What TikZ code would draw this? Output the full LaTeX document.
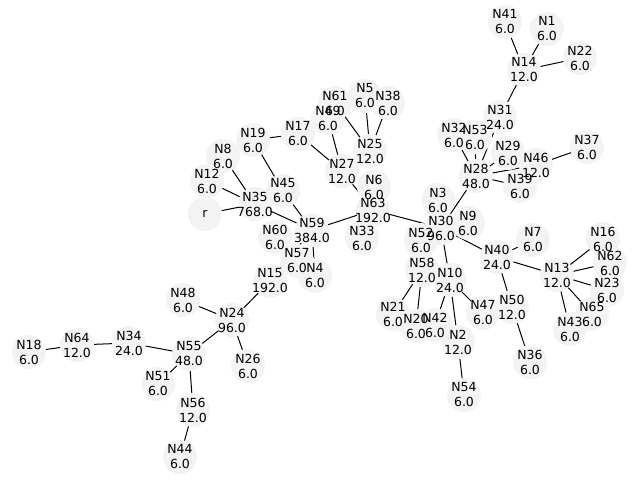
\documentclass[tikz,border=0pt]{standalone}
\usepackage{fontspec}
\setmainfont{DejaVu Sans}
\usetikzlibrary{backgrounds}
\definecolor{nodefill}{RGB}{243,243,243}
\begin{document}
\begin{tikzpicture}[x=1pt,y=-1pt,
  dot/.style={circle,fill=nodefill,draw=none,minimum size=34pt,inner sep=0pt},
  txt/.style={align=center,inner sep=0pt,font=\fontsize{12.5}{15}\selectfont},
  edge/.style={draw=black,line width=1pt}]
\useasboundingbox (0,0) rectangle (640,480);
\def\nodelist{N35/255/204/768.0,N12/207/181/6.0,N8/223/156/6.0,N19/253/140/6.0,N45/283/191/6.0,
N17/298/134/6.0,N27/342/171/12.0,N49/328/118/6.0,N61/335/103/6.0,N5/365/96/6.0,N38/388/103/6.0,
N25/370/151/12.0,N6/374/187/6.0,N63/373/210/192.0,N59/312/230/384.0,N60/275/237/6.0,N57/297/261/6.0,
N4/315/276/6.0,N33/362/238/6.0,N15/270/281/192.0,N24/232/320/96.0,N48/183/300/6.0,N26/248/366/6.0,
N55/189/354/48.0,N34/129/343/24.0,N64/77/345/12.0,N18/29/352/6.0,N51/158/384/6.0,N56/193/410/12.0,
N44/180/457/6.0,N30/441/228/96.0,N3/438/200/6.0,N9/468/223/6.0,N52/421/240/6.0,N28/476/176/48.0,
N32/454/135/6.0,N53/475/137/6.0,N29/508/153/6.0,N31/500/117/24.0,N14/524/70/12.0,N41/505/22/6.0,
N1/547/29/6.0,N22/580/58/6.0,N46/536/165/12.0,N37/587/147/6.0,N39/520/186/6.0,N40/497/257/24.0,
N7/533/240/6.0,N13/557/275/12.0,N16/603/239/6.0,N62/610/263/6.0,N23/607/290/6.0,N65/592/314/6.0,
N43/570/329/6.0,N50/512/307/12.0,N36/530/362/6.0,N10/450/280/24.0,N58/422/270/12.0,N21/393/314/6.0,
N20/416/326/6.0,N42/435/325/6.0,N2/458/342/12.0,N47/483/313/6.0,N54/464/395/6.0}
% circles
\node[dot] (r) at (205,214) {};
\foreach \n/\x/\y/\v in \nodelist { \node[dot] (\n) at (\x,\y) {}; }
% labels
\node[txt] (tr) at (r) {r};
\foreach \n/\x/\y/\v in \nodelist { \node[txt] (t\n) at (\n) {\n\\\v}; }
% edges
\begin{pgfonlayer}{background}
\foreach \a/\b in {r/N35,N35/N12,N35/N8,N35/N59,N59/N45,N45/N19,N19/N17,N17/N27,N49/N27,
N61/N25,N5/N25,N38/N25,N27/N63,N59/N63,N63/N30,N59/N4,N59/N15,N15/N24,N24/N48,N24/N55,N24/N26,
N55/N34,N34/N64,N64/N18,N55/N51,N55/N56,N56/N44,N30/N28,N28/N32,N28/N53,N28/N29,N28/N31,
N28/N46,N28/N39,N46/N37,N31/N14,N14/N41,N14/N1,N14/N22,N30/N10,N30/N40,N40/N7,N40/N13,
N40/N50,N50/N36,N13/N16,N13/N62,N13/N23,N13/N65,N13/N43,N10/N47,N10/N2,N10/N42,N58/N21,
N58/N20,N2/N54}
  { \draw[edge] (\a.center) -- (\b.center); }
\end{pgfonlayer}
\end{tikzpicture}
\end{document}
